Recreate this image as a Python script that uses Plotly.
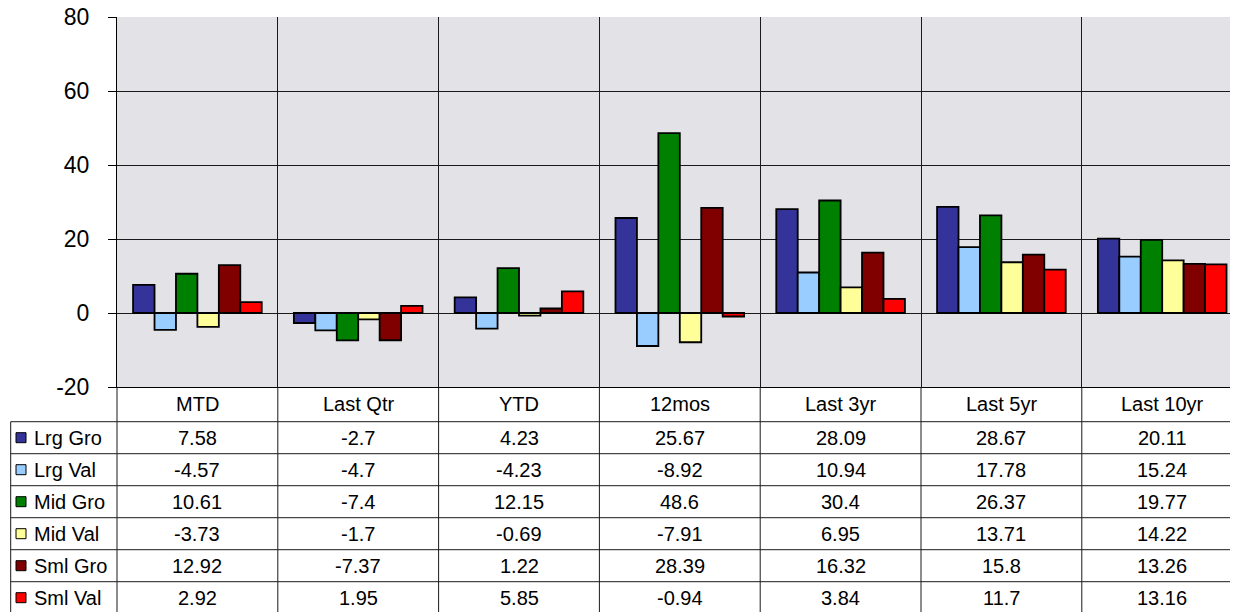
import plotly.graph_objects as go

categories = ["MTD", "Last Qtr", "YTD", "12mos", "Last 3yr", "Last 5yr", "Last 10yr"]
series_names = ["Lrg Gro", "Lrg Val", "Mid Gro", "Mid Val", "Sml Gro", "Sml Val"]
lrg_gro = [7.58, -2.7, 4.23, 25.67, 28.09, 28.67, 20.11]
lrg_val = [-4.57, -4.7, -4.23, -8.92, 10.94, 17.78, 15.24]
mid_gro = [10.61, -7.4, 12.15, 48.6, 30.4, 26.37, 19.77]
mid_val = [-3.73, -1.7, -0.69, -7.91, 6.95, 13.71, 14.22]
sml_gro = [12.92, -7.37, 1.22, 28.39, 16.32, 15.8, 13.26]
sml_val = [2.92, 1.95, 5.85, -0.94, 3.84, 11.7, 13.16]
y_ticks = [-20, 0, 20, 40, 60, 80]

series_values = [lrg_gro, lrg_val, mid_gro, mid_val, sml_gro, sml_val]
colors = ["#333399", "#99CCFF", "#008000", "#FFFF99", "#800000", "#FF0000"]

# The page body has an 8px margin, so the figure is shrunk by that amount
OFF = 8
W, H = 1238 - OFF, 612 - OFF
ML, MT = 117 - OFF, 17 - OFF
PH = 370                  # plot height in px
MB = H - MT - PH
PW = W - ML               # plot width in px
COL = 160.8               # category width px
x_max = -0.5 + PW / COL
FONT = "Arial, Liberation Sans, sans-serif"
LINE = "#1a1a1a"


def py(p):  # window pixel y -> paper y
    return (MT + PH - (p - OFF)) / PH


def px(p):  # window pixel x -> paper x
    return ((p - OFF) - ML) / PW


fig = go.Figure()
for name, vals, col in zip(series_names, series_values, colors):
    fig.add_trace(go.Bar(
        x=categories, y=vals, name=name,
        marker=dict(color=col, line=dict(color="black", width=1.8)),
        showlegend=False, hoverinfo="x+y+name",
    ))

shapes = []
annotations = []

# table geometry (window pixels)
L0 = 117.0
header_top = 387.0
header_bot = 421.7
row_h = 32.0
row_lines = [header_bot + i * row_h for i in range(len(series_names) + 1)]
legend_left = 10.7

for k in range(len(categories) + 1):
    xk = L0 + k * COL
    shapes.append(dict(type="line", xref="paper", yref="paper",
                       x0=px(xk), x1=px(xk), y0=py(header_top), y1=py(640),
                       line=dict(color=LINE, width=1)))
shapes.append(dict(type="line", xref="paper", yref="paper",
                   x0=px(legend_left), x1=px(legend_left),
                   y0=py(header_bot), y1=py(640),
                   line=dict(color=LINE, width=1)))
for yl in row_lines:
    shapes.append(dict(type="line", xref="paper", yref="paper",
                       x0=px(legend_left), x1=px(1250), y0=py(yl), y1=py(yl),
                       line=dict(color=LINE, width=1)))

for k, c in enumerate(categories):
    annotations.append(dict(text=c, xref="paper", yref="paper",
                            x=px(L0 + (k + 0.5) * COL), y=py((header_top + header_bot) / 2),
                            showarrow=False, xanchor="center", yanchor="middle",
                            font=dict(family=FONT, size=20, color="black")))

for i, (name, vals, col) in enumerate(zip(series_names, series_values, colors)):
    yc = row_lines[i] + row_h / 2
    shapes.append(dict(type="rect", xref="paper", yref="paper",
                       x0=px(16), x1=px(26), y0=py(yc - 5), y1=py(yc + 5),
                       fillcolor=col, line=dict(color="black", width=1)))
    annotations.append(dict(text=name, xref="paper", yref="paper",
                            x=px(32), y=py(yc), showarrow=False,
                            xanchor="left", yanchor="middle",
                            font=dict(family=FONT, size=20, color="black")))
    for k, v in enumerate(vals):
        annotations.append(dict(text=str(v), xref="paper", yref="paper",
                                x=px(L0 + (k + 0.5) * COL), y=py(yc), showarrow=False,
                                xanchor="center", yanchor="middle",
                                font=dict(family=FONT, size=20, color="black")))

fig.update_layout(
    width=W, height=H,
    margin=dict(l=ML, r=0, t=MT, b=MB, pad=0, autoexpand=False),
    paper_bgcolor="white",
    plot_bgcolor="#E3E3E7",
    barmode="group", bargap=0.2, bargroupgap=0,
    font=dict(family=FONT, color="black"),
    shapes=shapes, annotations=annotations,
    xaxis=dict(type="category", range=[-0.5, x_max], tickson="boundaries",
               showgrid=True, gridcolor=LINE, gridwidth=1,
               showticklabels=False, ticks="", automargin=False,
               showline=True, linecolor="black", linewidth=1, zeroline=False),
    yaxis=dict(range=[-20, 80], tickvals=y_ticks, ticktext=[str(t) for t in y_ticks],
               showgrid=True, gridcolor=LINE, gridwidth=1, automargin=False,
               ticks="outside", ticklen=8, tickcolor="black", tickwidth=1,
               ticklabelstandoff=14, ticklabeloverflow="allow",
               tickfont=dict(family=FONT, size=23, color="black"),
               showline=True, linecolor="black", linewidth=1, zeroline=False),
)

fig.write_html("out.html")
